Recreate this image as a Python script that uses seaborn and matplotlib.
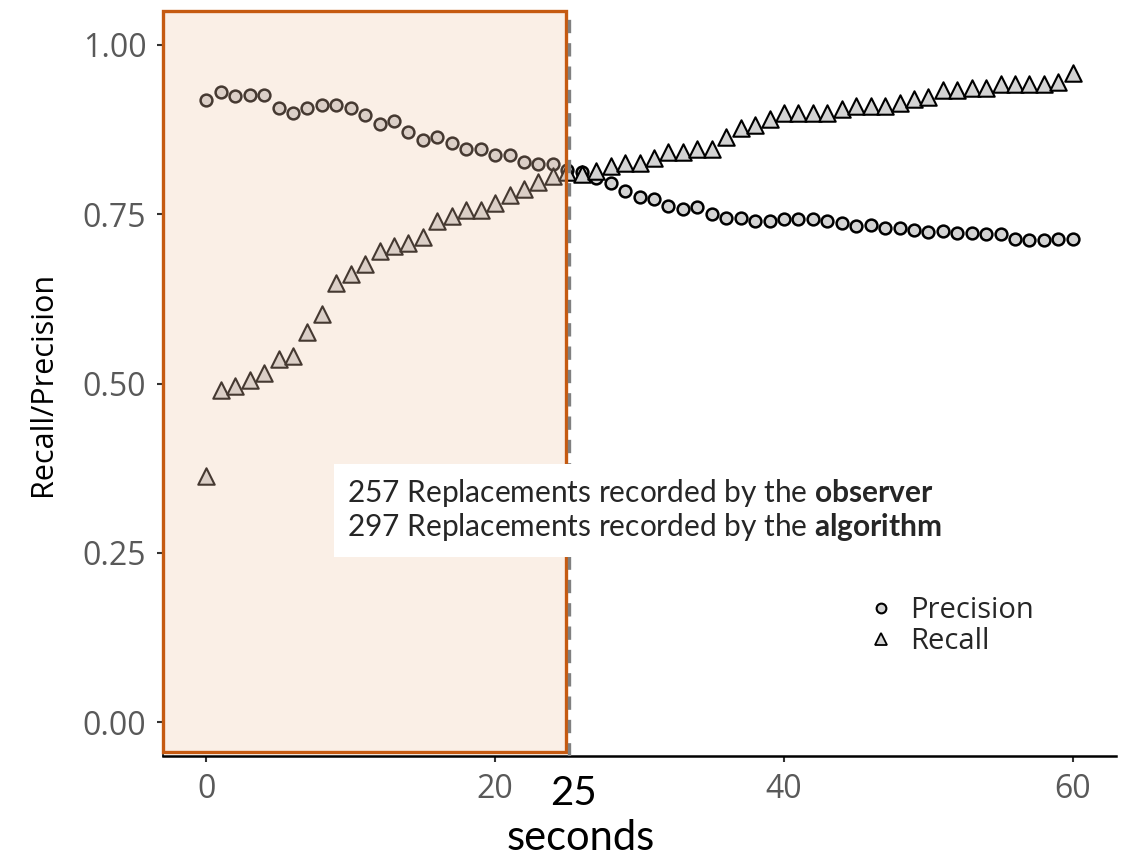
import numpy as np
import pandas as pd
import matplotlib
matplotlib.use("Agg")
import matplotlib.pyplot as plt
from matplotlib.patches import Rectangle
from matplotlib.lines import Line2D
import seaborn as sns

# values, one per second (0..60)
seconds = list(range(61))
precision = [0.919, 0.931, 0.924, 0.926, 0.926, 0.907, 0.900, 0.907, 0.911, 0.911,
             0.907, 0.897, 0.884, 0.887, 0.871, 0.859, 0.864, 0.855, 0.846, 0.846,
             0.837, 0.837, 0.827, 0.824, 0.824, 0.816, 0.812, 0.804, 0.796, 0.784,
             0.775, 0.773, 0.762, 0.758, 0.761, 0.750, 0.744, 0.744, 0.740, 0.740,
             0.743, 0.743, 0.743, 0.740, 0.737, 0.733, 0.734, 0.730, 0.729, 0.727,
             0.724, 0.725, 0.723, 0.723, 0.721, 0.721, 0.714, 0.712, 0.712, 0.713,
             0.714]
recall = [0.364, 0.490, 0.496, 0.505, 0.516, 0.536, 0.541, 0.576, 0.603, 0.649,
          0.662, 0.676, 0.696, 0.703, 0.707, 0.716, 0.740, 0.748, 0.756, 0.756,
          0.767, 0.778, 0.788, 0.798, 0.806, 0.812, 0.810, 0.814, 0.821, 0.826,
          0.826, 0.833, 0.842, 0.842, 0.847, 0.847, 0.864, 0.877, 0.882, 0.891,
          0.900, 0.900, 0.900, 0.900, 0.905, 0.910, 0.910, 0.910, 0.915, 0.920,
          0.923, 0.933, 0.933, 0.936, 0.936, 0.943, 0.943, 0.943, 0.943, 0.946,
          0.958]
cutoff = 25
n_observer = 257
n_algorithm = 297

df = pd.DataFrame({"seconds": seconds, "Precision": precision, "Recall": recall})

sns.set_theme(style="ticks")
plt.rcParams["font.family"] = ["Open Sans", "DejaVu Sans"]
plt.rcParams["mathtext.fontset"] = "custom"
plt.rcParams["mathtext.rm"] = "Lato"
plt.rcParams["mathtext.bf"] = "Lato:bold"

fig = plt.figure(figsize=(11.24, 8.57), dpi=100)
ax = fig.add_axes([0.145, 0.118, 0.848, 0.869])

sns.scatterplot(data=df, x="seconds", y="Precision", ax=ax, marker="o", s=72,
                color="#d3d3d3", edgecolor="black", linewidth=1.8, zorder=2)
sns.scatterplot(data=df, x="seconds", y="Recall", ax=ax, marker="^", s=140,
                color="#d3d3d3", edgecolor="black", linewidth=1.5, zorder=2)

ax.set_xlim(-3, 63)
ax.set_ylim(-0.05, 1.05)
ax.set_xticks([0, 20, 40, 60])
ax.set_yticks([0, 0.25, 0.5, 0.75, 1.0])
ax.set_yticklabels(["0.00", "0.25", "0.50", "0.75", "1.00"])
ax.tick_params(labelsize=23, labelcolor="#595959", color="#333333", length=4, width=1.5, pad=8)
ax.set_xlabel("")
ax.set_ylabel("Recall/Precision", fontsize=22, color="black", labelpad=18)
sns.despine(ax=ax)
ax.spines["bottom"].set_linewidth(1.8)
ax.spines["bottom"].set_color("black")

# shaded first 25 seconds
shade = Rectangle((-3, -0.045), cutoff - 0.1 + 3, 1.095,
                  facecolor=(241 / 255, 200 / 255, 172 / 255, 0.29),
                  edgecolor="#c55a11", linewidth=2.4, zorder=3, clip_on=False)
ax.add_patch(shade)
ax.axvline(cutoff + 0.1, color="#808080", linestyle=(0, (4, 3)), linewidth=2.4, zorder=4)

ax.text(9.75, 0.362,
        f"{n_observer} Replacements recorded by the " + r"$\bf{observer}$" + "\n"
        + f"{n_algorithm} Replacements recorded by the " + r"$\bf{algorithm}$",
        fontsize=21.5, family="Lato", va="top", ha="left", linespacing=1.1,
        bbox=dict(facecolor="white", edgecolor="none", boxstyle="square,pad=0.45"),
        zorder=6)

ax.text(cutoff + 0.4, -0.05, str(cutoff), transform=ax.get_xaxis_transform(),
        fontsize=29, family="Lato", ha="center", va="center", color="black")
ax.text(cutoff + 0.9, -0.11, "seconds", transform=ax.get_xaxis_transform(),
        fontsize=30, family="Lato", ha="center", va="center", color="black")

handles = [Line2D([], [], marker="o", linestyle="", markersize=7, markerfacecolor="#d3d3d3",
                  markeredgecolor="black", markeredgewidth=1.5),
           Line2D([], [], marker="^", linestyle="", markersize=9, markerfacecolor="#d3d3d3",
                  markeredgecolor="black", markeredgewidth=1.3)]
ax.legend(handles, ["Precision", "Recall"], loc="upper left", bbox_to_anchor=(0.729, 0.230),
          frameon=False, fontsize=21, handlelength=0.8, handletextpad=0.6,
          labelspacing=0.05, borderaxespad=0)

fig.savefig("out.png", dpi=100)
